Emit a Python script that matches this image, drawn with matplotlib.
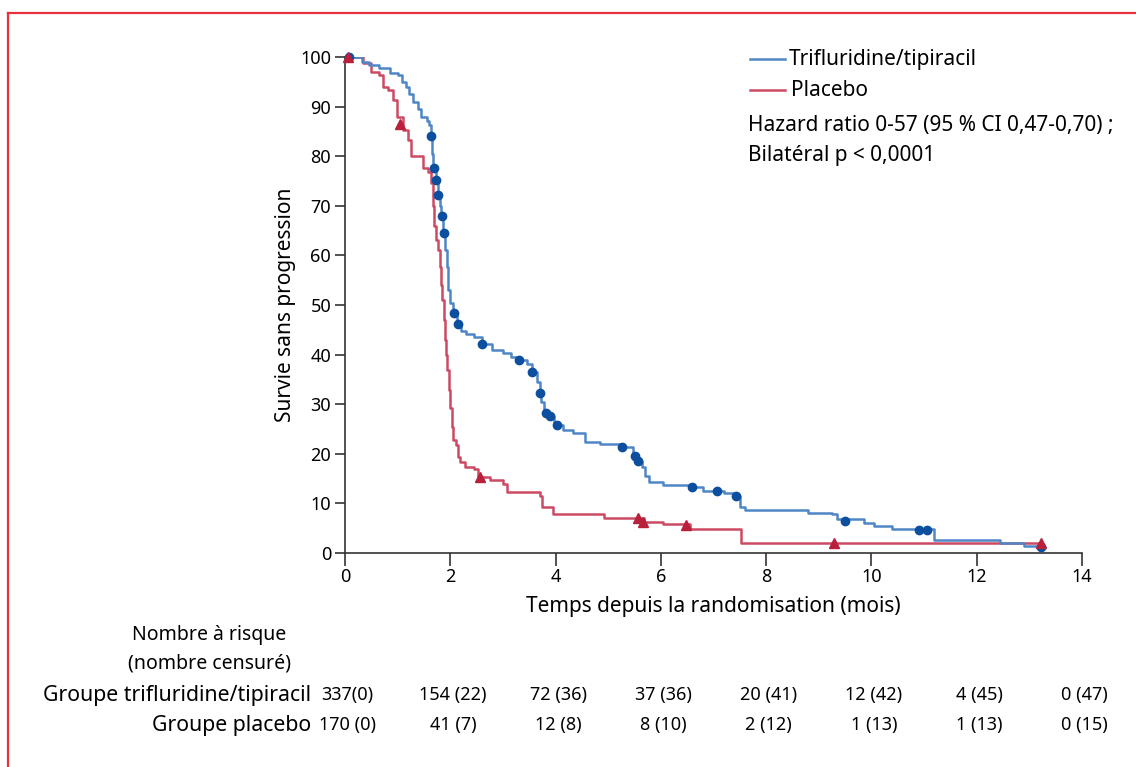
import numpy as np
import matplotlib.pyplot as plt
from matplotlib.lines import Line2D

plt.rcParams['font.family'] = ['Noto Sans', 'DejaVu Sans']

# Kaplan-Meier steps (months, % progression-free)
tri_t = [0, 0.32, 0.45, 0.65, 0.85, 1.0, 1.08, 1.15, 1.22, 1.3, 1.38, 1.45, 1.55, 1.6,
         1.63, 1.66, 1.68, 1.72, 1.76, 1.80, 1.83, 1.86, 1.90, 1.93, 1.96, 2.0, 2.05, 2.12,
         2.2, 2.3, 2.45, 2.6, 2.8, 3.0, 3.15, 3.3, 3.45, 3.55, 3.65, 3.7, 3.73, 3.78, 3.85,
         3.97, 4.15, 4.33, 4.55, 4.85, 5.25, 5.48, 5.55, 5.64, 5.70, 5.77, 6.05, 6.6, 6.8,
         7.2, 7.4, 7.5, 7.6, 8.8, 9.25, 9.35, 9.85, 10.05, 10.4, 11.18, 12.44, 12.9, 13.22]
tri_s = [100, 99.0, 98.4, 97.7, 96.8, 96.4, 95.0, 94.0, 92.5, 91.0, 89.5, 88.0, 87.0, 86.3,
         84.0, 80.5, 77.7, 75.2, 72.2, 70.0, 68.0, 64.6, 61.0, 57.7, 53.0, 50.4, 48.3, 46.2,
         44.8, 44.2, 43.5, 42.1, 41.0, 40.3, 39.5, 38.9, 38.2, 36.4, 34.5, 32.3, 30.5, 28.3, 27.6,
         25.8, 24.8, 24.1, 22.4, 21.9, 21.4, 19.6, 18.6, 17.4, 15.5, 14.4, 13.7, 13.4, 12.5,
         12.0, 11.4, 9.3, 8.7, 8.1, 7.8, 6.9, 6.1, 5.4, 4.8, 2.6, 2.0, 1.5, 1.2]
tri_cens_t = [0.08, 1.64, 1.69, 1.73, 1.77, 1.84, 1.88, 2.07, 2.14, 2.6, 3.30, 3.56, 3.71,
              3.81, 3.89, 4.02, 5.26, 5.50, 5.57, 6.6, 7.07, 7.42, 9.5, 10.9, 11.05, 13.22]
tri_cens_s = [100, 84.0, 77.7, 75.2, 72.2, 68.0, 64.6, 48.3, 46.2, 42.1, 38.9, 36.4, 32.3,
              28.3, 27.6, 25.8, 21.4, 19.6, 18.6, 13.4, 12.4, 11.4, 6.5, 4.7, 4.7, 1.2]

pla_t = [0, 0.35, 0.5, 0.65, 0.72, 0.82, 0.91, 0.98, 1.1, 1.2, 1.26, 1.48, 1.58, 1.64,
         1.68, 1.70, 1.72, 1.77, 1.80, 1.82, 1.85, 1.88, 1.90, 1.92, 1.94, 1.97, 2.0, 2.03,
         2.05, 2.1, 2.14, 2.19, 2.28, 2.45, 2.53, 2.75, 3.0, 3.07, 3.71, 3.74, 3.96, 4.92,
         5.68, 6.05, 6.55, 7.52, 13.23]
pla_s = [100, 98.7, 97.0, 96.4, 94.0, 93.3, 91.3, 88.0, 85.3, 83.3, 80.0, 77.6, 76.9, 74.5,
         70.0, 66.0, 63.1, 61.1, 57.7, 54.0, 51.0, 47.0, 43.0, 40.0, 36.9, 32.9, 29.2, 25.5,
         22.8, 21.8, 19.4, 18.4, 17.4, 17.0, 15.4, 14.7, 14.0, 12.2, 11.5, 9.3, 7.8, 7.1,
         6.2, 5.8, 4.8, 2.0, 2.0]
pla_cens_t = [0.06, 1.05, 2.56, 5.56, 5.66, 6.47, 9.29, 13.23]
pla_cens_s = [100, 86.5, 15.4, 7.1, 6.2, 5.6, 2.0, 2.0]

risk_times = [0, 2, 4, 6, 8, 10, 12, 14]
risk_tri = ['337(0)', '154 (22)', '72 (36)', '37 (36)', '20 (41)', '12 (42)', '4 (45)', '0 (47)']
risk_pla = ['170 (0)', '41 (7)', '12 (8)', '8 (10)', '2 (12)', '1 (13)', '1 (13)', '0 (15)']

blue_line = '#4f86c6'
blue_mark = '#0b4f9e'
red_line = '#cc4a63'
red_mark = '#b8203c'

W, H = 1136, 767
fig = plt.figure(figsize=(W / 100, H / 100), dpi=100)
ax = fig.add_axes([345 / W, 1 - 553 / H, (1082 - 345) / W, (553 - 57) / H])

ax.plot(tri_t, tri_s, drawstyle='steps-post', color=blue_line, lw=1.8, zorder=3)
ax.plot(pla_t, pla_s, drawstyle='steps-post', color=red_line, lw=1.8, zorder=2)
ax.plot(tri_cens_t, tri_cens_s, 'o', color=blue_mark, ms=6, clip_on=False, zorder=4)
ax.plot(pla_cens_t, pla_cens_s, '^', color=red_mark, ms=6.5, clip_on=False, zorder=4)

ax.set_xlim(0, 14)
ax.set_ylim(0, 100)
ax.set_xticks(range(0, 15, 2))
ax.set_yticks(range(0, 101, 10))
for s in ['top', 'right']:
    ax.spines[s].set_visible(False)
for s in ['left', 'bottom']:
    ax.spines[s].set_color('#333333')
    ax.spines[s].set_linewidth(1.2)
ax.tick_params(axis='x', length=9, width=1.2, color='#333333', labelsize=13, pad=2)
ax.tick_params(axis='y', length=7, width=1.2, color='#333333', labelsize=13, pad=3)
ax.set_xlabel('Temps depuis la randomisation (mois)', fontsize=15, labelpad=7)
ax.set_ylabel('Survie sans progression', fontsize=15, labelpad=3)

# legend and hazard ratio text
def fx(px):
    return px / W

def fy(py):
    return 1 - py / H

fig.add_artist(Line2D([fx(750), fx(785)], [fy(59), fy(59)], color=blue_line, lw=1.8))
fig.add_artist(Line2D([fx(750), fx(785)], [fy(90), fy(90)], color=red_line, lw=1.8))
fig.text(fx(789), fy(59), 'Trifluridine/tipiracil', fontsize=15, va='center')
fig.text(fx(791), fy(90), 'Placebo', fontsize=15, va='center')
fig.text(fx(748), fy(125), 'Hazard ratio 0-57 (95 % CI 0,47-0,70) ;', fontsize=15, va='center')
fig.text(fx(748), fy(155), 'Bilatéral p < 0,0001', fontsize=15, va='center')

# number at risk table
fig.text(fx(209), fy(635), 'Nombre à risque', fontsize=14, ha='center', va='center')
fig.text(fx(209), fy(664), '(nombre censuré)', fontsize=14, ha='center', va='center')
fig.text(fx(311), fy(695), 'Groupe trifluridine/tipiracil', fontsize=15.3, ha='right', va='center')
fig.text(fx(311), fy(725), 'Groupe placebo', fontsize=15.3, ha='right', va='center')
trans = ax.get_xaxis_transform()
for t, a, b in zip(risk_times, risk_tri, risk_pla):
    ax.text(t + 0.05, (553 - 695) / (553 - 57), a, transform=trans, fontsize=13,
            ha='center', va='center', clip_on=False)
    ax.text(t + 0.05, (553 - 725) / (553 - 57), b, transform=trans, fontsize=13,
            ha='center', va='center', clip_on=False)

# red frame (only top and left edges are inside the picture)
frame = '#e8313c'
fig.add_artist(Line2D([fx(8), 1], [fy(13), fy(13)], color=frame, lw=1.6))
fig.add_artist(Line2D([fx(8), fx(8)], [0, fy(13)], color=frame, lw=1.6))

fig.savefig('out.png', dpi=100)
